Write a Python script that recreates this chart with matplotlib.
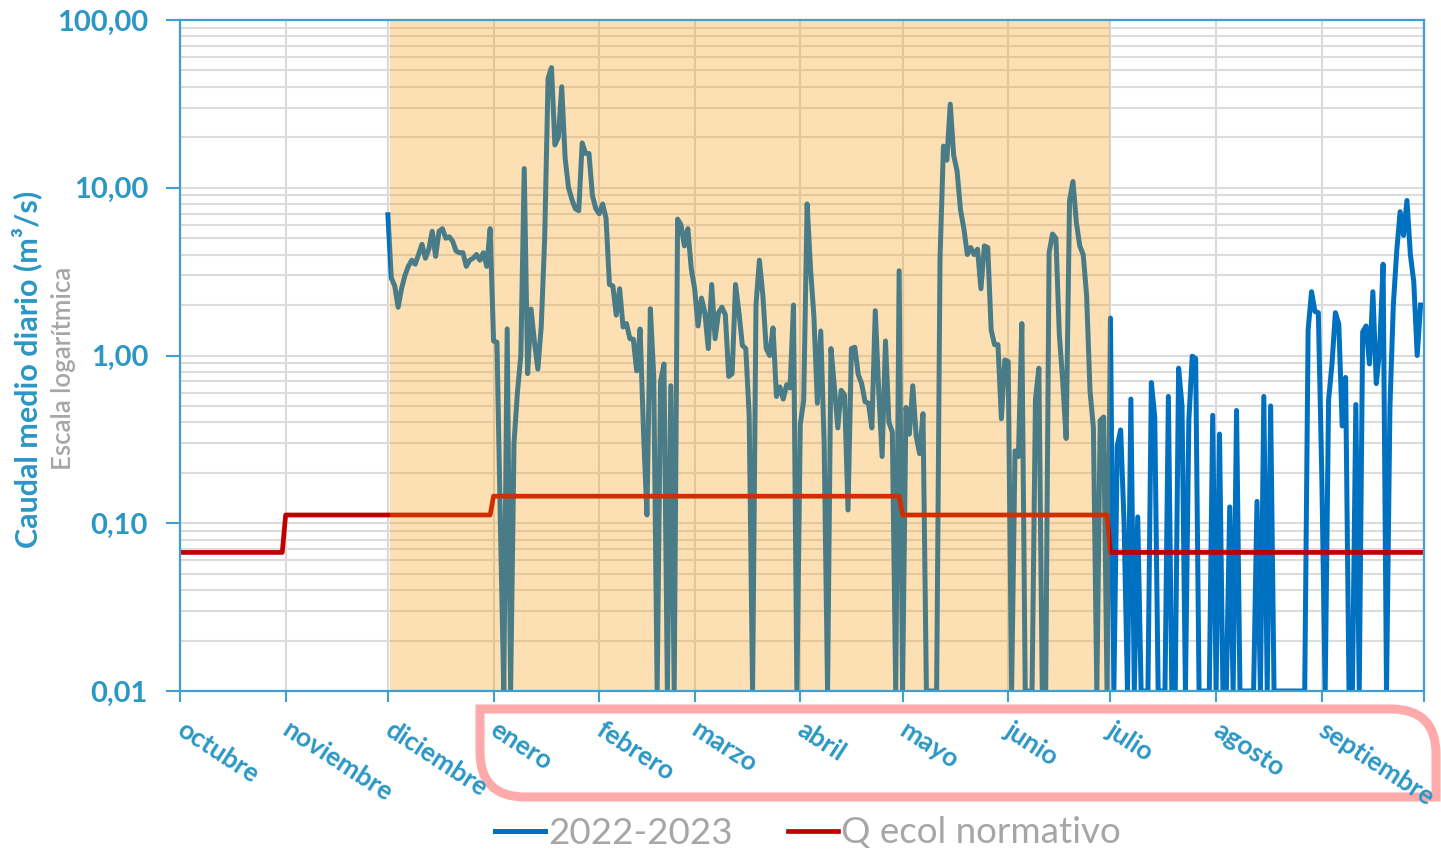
import numpy as np
import matplotlib.pyplot as plt
from matplotlib.path import Path
from matplotlib.patches import PathPatch
from matplotlib.ticker import FixedLocator, FixedFormatter, NullFormatter
from matplotlib.transforms import IdentityTransform, ScaledTranslation

# Meses del año hidrológico 2022-2023
meses = ['octubre', 'noviembre', 'diciembre', 'enero', 'febrero', 'marzo',
         'abril', 'mayo', 'junio', 'julio', 'agosto', 'septiembre']
dias_mes = [31, 30, 31, 31, 28, 31, 30, 31, 30, 31, 31, 30]

# Caudal medio diario (m3/s). 0.01 = fondo de escala. Sin datos en oct-nov
caudal_dic = [6.9, 2.9, 2.6, 1.94, 2.5, 3.0, 3.4, 3.7, 3.5, 4.0, 4.6, 3.8, 4.3, 5.5, 3.9, 5.5,
              5.7, 5.0, 5.1, 4.8, 4.2, 4.1, 4.1, 3.4, 3.7, 3.8, 4.0, 3.7, 4.1, 3.4, 5.7]
caudal_ene = [1.22, 1.2, 0.1, 0.01, 1.44, 0.01, 0.3, 0.6, 1.0, 13.0, 0.78, 1.89, 1.2, 0.83, 1.5, 5.0,
              45.0, 52.0, 18.0, 20.0, 40.0, 15.0, 10.0, 8.5, 7.5, 7.3, 18.5, 16.0, 16.0, 9.0, 7.5]
caudal_feb = [7.0, 8.0, 6.6, 2.65, 2.6, 1.74, 2.5, 1.48, 1.55, 1.26, 1.25, 0.81, 1.44, 0.35,
              0.112, 1.9, 0.75, 0.01, 0.7, 0.89, 0.01, 0.66, 0.01, 6.5, 6.0, 4.5, 5.7, 3.3]
caudal_mar = [2.5, 1.5, 2.2, 1.8, 1.1, 2.65, 1.26, 1.8, 1.94, 1.75, 0.75, 0.78, 2.65, 1.8, 1.15, 1.1,
              0.44, 0.01, 2.0, 3.7, 2.3, 1.1, 1.0, 1.46, 0.57, 0.65, 0.55, 0.67, 0.64, 2.0, 0.01]
caudal_abr = [0.39, 0.54, 8.0, 3.3, 1.7, 0.52, 1.4, 0.3, 0.01, 1.1, 0.65, 0.37, 0.62, 0.58, 0.12,
              1.1, 1.12, 0.77, 0.68, 0.53, 0.52, 0.37, 1.85, 0.62, 0.25, 1.22, 0.40, 0.35, 0.01, 3.2]
caudal_may = [0.01, 0.49, 0.34, 0.66, 0.33, 0.26, 0.45, 0.01, 0.01, 0.01, 0.01, 3.8, 17.7, 14.6, 31.5,
              15.6, 12.6, 7.4, 5.7, 4.0, 4.4, 4.0, 4.3, 2.5, 4.5, 4.4, 1.42, 1.16, 1.16, 0.42, 0.94]
caudal_jun = [0.92, 0.01, 0.27, 0.25, 1.55, 0.01, 0.01, 0.01, 0.55, 0.84, 0.01, 0.01, 4.1, 5.3, 5.0,
              1.34, 0.7, 0.32, 8.4, 10.9, 6.2, 4.5, 4.0, 2.3, 0.62, 0.37, 0.01, 0.41, 0.43, 0.01]
caudal_jul = [1.67, 0.01, 0.29, 0.36, 0.1, 0.01, 0.55, 0.01, 0.109, 0.01, 0.01, 0.01, 0.69, 0.43, 0.01,
              0.01, 0.01, 0.57, 0.01, 0.01, 0.84, 0.5, 0.01, 0.41, 0.99, 0.96, 0.01, 0.01, 0.01, 0.01, 0.44]
caudal_ago = [0.01, 0.34, 0.01, 0.01, 0.125, 0.01, 0.47, 0.01, 0.01, 0.01, 0.01, 0.01, 0.135, 0.01, 0.57,
              0.01, 0.50, 0.01, 0.01, 0.01, 0.01, 0.01, 0.01, 0.01, 0.01, 0.01, 0.01, 1.42, 2.4, 1.83, 1.8]
caudal_sep = [0.2, 0.01, 0.54, 0.89, 1.8, 1.54, 0.38, 0.74, 0.01, 0.01, 0.51, 0.01, 1.38, 1.5, 0.89,
              2.4, 0.68, 1.1, 3.5, 0.01, 0.49, 2.0, 4.2, 7.2, 5.2, 8.4, 4.0, 2.75, 1.0, 2.0]

# Caudal ecológico normativo mensual (m3/s)
qeco_mes = [0.067, 0.112, 0.112, 0.145, 0.145, 0.145, 0.145, 0.112, 0.112, 0.067, 0.067, 0.067]

# Periodo sombreado (días desde 1 de octubre)
sombra_ini, sombra_fin = 61.6, 273.0

y_ticks = [0.01, 0.1, 1, 10, 100]
y_labels = ['0,01', '0,10', '1,00', '10,00', '100,00']

caudal = np.concatenate([np.full(dias_mes[0] + dias_mes[1], np.nan),
                         caudal_dic, caudal_ene, caudal_feb, caudal_mar, caudal_abr,
                         caudal_may, caudal_jun, caudal_jul, caudal_ago, caudal_sep])
qeco = np.repeat(qeco_mes, dias_mes)
dias = np.arange(len(qeco))
inicio_mes = np.concatenate([[0], np.cumsum(dias_mes)])

azul = '#2B97C5'
azul_eje = '#3FA0CF'
gris = '#A6A6A6'

plt.rcParams['font.family'] = ['Lato', 'DejaVu Sans']

fig = plt.figure(figsize=(14.41, 8.52), dpi=100)
ax = fig.add_axes([180 / 1441, 1 - 691 / 852, 1244 / 1441, 671 / 852])

line_q, = ax.plot(dias, caudal, color='#0070C0', lw=3.6, zorder=2, solid_joinstyle='round')
line_e, = ax.plot(dias, qeco, color='#C00000', lw=3.4, zorder=2)
ax.axvspan(sombra_ini, sombra_fin, color='#F79805', alpha=0.3, lw=0, zorder=3)

ax.set_yscale('log')
ax.set_ylim(0.01, 100)
ax.set_xlim(0, 364.8)
ax.yaxis.set_major_locator(FixedLocator(y_ticks))
ax.yaxis.set_major_formatter(FixedFormatter(y_labels))
ax.yaxis.set_minor_locator(FixedLocator([m * 10.0 ** e for e in range(-2, 2) for m in range(2, 10)]))
ax.yaxis.set_minor_formatter(NullFormatter())

ax.set_xticks(inicio_mes)
ax.set_xticklabels(meses + [''])
ax.grid(True, axis='x', color='#D9D9D9', lw=1.5)
ax.grid(True, axis='y', which='both', color='#DCDCDC', lw=1.5)
ax.set_axisbelow(True)

for s in ax.spines.values():
    s.set_color(azul_eje)
    s.set_linewidth(1.6)
    s.set_zorder(4)

ax.tick_params(axis='y', which='major', length=10, width=1.5, color=azul_eje, pad=13,
               labelsize=21, labelcolor=azul)
ax.tick_params(axis='y', which='minor', length=0)
ax.tick_params(axis='x', length=8, width=1.5, color=azul_eje, pad=11,
               labelsize=19, labelcolor=azul)
for lab in ax.get_yticklabels():
    lab.set_fontweight('bold')
desplaza = ScaledTranslation(6 / 100, 0, fig.dpi_scale_trans)
for lab in ax.get_xticklabels():
    lab.set_fontweight('bold')
    lab.set_rotation(-33)
    lab.set_ha('left')
    lab.set_va('top')
    lab.set_rotation_mode('anchor')
    lab.set_transform(lab.get_transform() + desplaza)

fig.text(27 / 1441, 1 - 369 / 852, 'Caudal medio diario (m³/s)', rotation=90,
         ha='center', va='center', fontsize=22, fontweight='bold', color=azul)
fig.text(64 / 1441, 1 - 368 / 852, 'Escala logarítmica', rotation=90,
         ha='center', va='center', fontsize=18.5, fontweight='semibold', color=gris)

# Recuadro rosa con esquinas diagonales redondeadas (coordenadas en píxeles)
H = 852
L, R, T, B, r = 480, 1436, 709, 797, 45
verts = [(L, H - T), (R - r, H - T), (R, H - T), (R, H - T - r), (R, H - B),
         (L + r, H - B), (L, H - B), (L, H - B + r), (L, H - T)]
codes = [Path.MOVETO, Path.LINETO, Path.CURVE3, Path.CURVE3, Path.LINETO,
         Path.LINETO, Path.CURVE3, Path.CURVE3, Path.CLOSEPOLY]
recuadro = PathPatch(Path(verts, codes), fill=False, edgecolor='#FFAAAA', lw=6.5,
                     transform=IdentityTransform(), zorder=-1)
fig.patches.append(recuadro)

leg = fig.legend([line_q, line_e], ['2022-2023', 'Q ecol normativo'], loc='center',
                 bbox_to_anchor=(808 / 1441, 1 - 833 / 852), ncol=2, frameon=False,
                 fontsize=26.5, handlelength=1.35, handletextpad=0.1, columnspacing=1.5,
                 labelcolor=gris)

fig.savefig('out.png', dpi=100)
